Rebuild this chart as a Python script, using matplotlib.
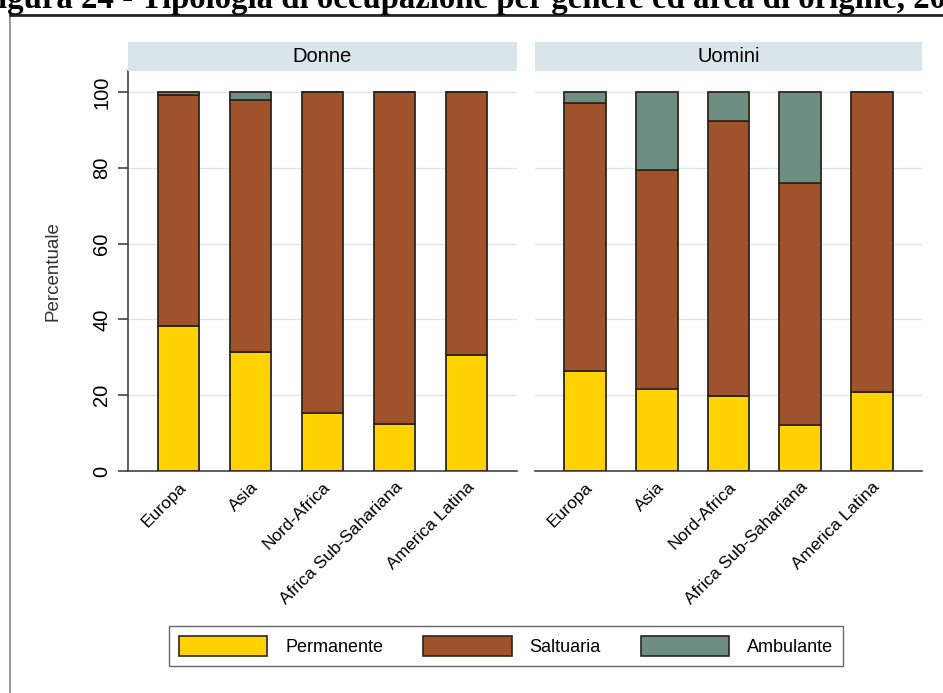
import matplotlib.pyplot as plt
from matplotlib.patches import Patch
from matplotlib.lines import Line2D

plt.rcParams['font.family'] = ['Liberation Sans', 'DejaVu Sans']

# Data (percentages)
areas = ["Europa", "Asia", "Nord-Africa", "Africa Sub-Sahariana", "America Latina"]
panels = ["Donne", "Uomini"]
categories = ["Permanente", "Saltuaria", "Ambulante"]

donne_permanente = [38.3, 31.4, 15.3, 12.4, 30.6]
donne_saltuaria = [60.9, 66.5, 84.7, 87.6, 69.4]
donne_ambulante = [0.8, 2.1, 0.0, 0.0, 0.0]

uomini_permanente = [26.4, 21.6, 19.8, 12.1, 20.8]
uomini_saltuaria = [70.7, 57.8, 72.5, 63.9, 79.2]
uomini_ambulante = [2.9, 20.6, 7.7, 24.0, 0.0]

colors = ["#FFD200", "#A0522D", "#6E8E84"]
edge = "#2e2618"

W, H = 943, 693
fig = plt.figure(figsize=(W / 100, H / 100), dpi=100)

# cropped title at the top (the source image cuts it off)
fig.text(-22 / W, 1 - 8 / H, "Figura 24 - Tipologia di occupazione per genere ed area di origine, 2013",
         family="Liberation Serif", fontweight="bold", fontsize=23.6, ha="left", va="baseline")

# outer frame (only left and top edges visible)
fig.add_artist(Line2D([10 / W, 10 / W], [0, 1 - 15 / H], transform=fig.transFigure, color="#888888", lw=1.2))
fig.add_artist(Line2D([10 / W, 1], [1 - 15 / H, 1 - 15 / H], transform=fig.transFigure, color="#222222", lw=2))

data = {
    "Donne": (donne_permanente, donne_saltuaria, donne_ambulante),
    "Uomini": (uomini_permanente, uomini_saltuaria, uomini_ambulante),
}
lefts = [128, 535]
widths = [389, 387]
ax_top, ax_bot = 71, 471
strip_top = 42

x = list(range(len(areas)))
for i, name in enumerate(panels):
    ax = fig.add_axes([lefts[i] / W, 1 - ax_bot / H, widths[i] / W, (ax_bot - ax_top) / H])
    perm, salt, amb = data[name]
    bottom2 = [p + s for p, s in zip(perm, salt)]
    ax.bar(x, perm, width=0.58, color=colors[0], edgecolor=edge, linewidth=1.3, zorder=3)
    ax.bar(x, salt, bottom=perm, width=0.58, color=colors[1], edgecolor=edge, linewidth=1.3, zorder=3)
    ax.bar(x, amb, bottom=bottom2, width=0.58, color=colors[2], edgecolor=edge, linewidth=1.3, zorder=3)
    ax.set_xlim(-0.7, 4.7)
    ax.set_ylim(0, 105.5)
    ax.set_yticks([0, 20, 40, 60, 80, 100])
    ax.yaxis.grid(True, color="#DDE7EC", lw=1.0, zorder=0)
    ax.set_xticks(x)
    ax.set_xticklabels(areas, rotation=45, ha="right", rotation_mode="anchor", fontsize=12.5)
    ax.tick_params(axis="x", length=0, pad=6)
    for s in ["top", "right"]:
        ax.spines[s].set_visible(False)
    ax.spines["bottom"].set_color("#444444")
    ax.spines["bottom"].set_linewidth(1.2)
    if i == 0:
        ax.spines["left"].set_color("#444444")
        ax.spines["left"].set_linewidth(1.2)
        ax.tick_params(axis="y", length=7, width=1.2, color="#444444", pad=5, labelsize=14.5)
        for lab in ax.get_yticklabels():
            lab.set_rotation(90)
            lab.set_va("center")
        ax.set_ylabel("Percentuale", fontsize=13.5, color="#333333", labelpad=22)
    else:
        ax.spines["left"].set_visible(False)
        ax.tick_params(axis="y", length=0, labelleft=False)

    # strip header
    sax = fig.add_axes([lefts[i] / W, 1 - ax_top / H, widths[i] / W, (ax_top - strip_top) / H])
    sax.set_facecolor("#D9E4EB")
    sax.set_xticks([])
    sax.set_yticks([])
    for s in sax.spines.values():
        s.set_visible(False)
    sax.text(0.5, 0.5, name, ha="center", va="center", fontsize=14.5, transform=sax.transAxes)

handles = [Patch(facecolor=c, edgecolor=edge, linewidth=1.2) for c in colors]
fig.legend(handles, categories, loc="center", bbox_to_anchor=(506 / W, 1 - 646 / H), ncol=3,
           fontsize=13, handlelength=4.9, handleheight=1.4, handletextpad=1.0, columnspacing=2.2,
           fancybox=False, frameon=True, edgecolor="#444444", borderpad=0.55)

fig.savefig("out.png", dpi=100)
